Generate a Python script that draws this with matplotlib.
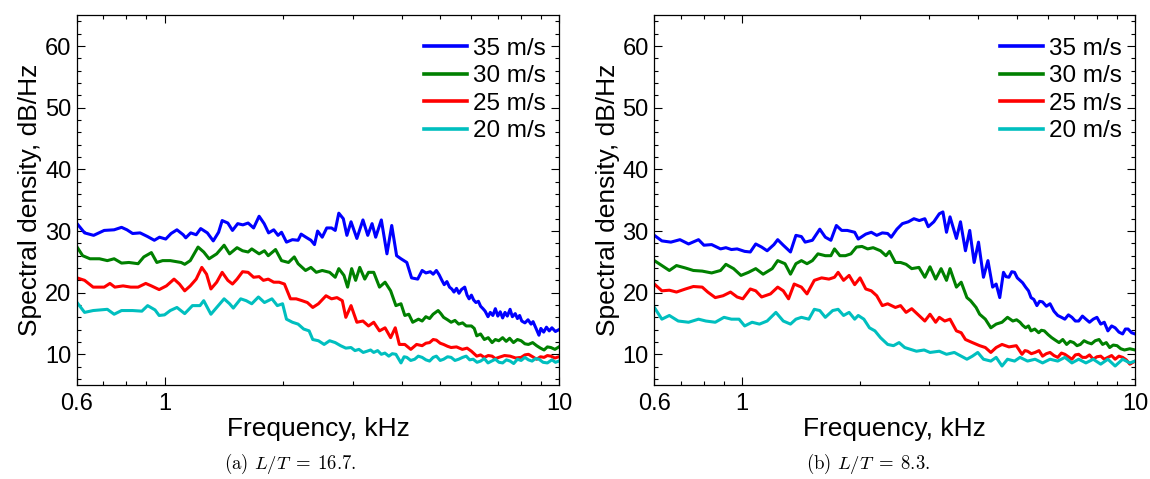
import matplotlib
matplotlib.use("Agg")
import matplotlib.pyplot as plt
from matplotlib.ticker import FixedLocator, NullFormatter, MultipleLocator

plt.rcParams['font.family'] = ['Liberation Sans', 'DejaVu Sans']
plt.rcParams['mathtext.fontset'] = 'cm'

speeds = ["35 m/s", "30 m/s", "25 m/s", "20 m/s"]
colors = ["#0000ff", "#008000", "#ff0000", "#00bfbf"]
captions = [r"(a) $L/T\;=\;16.7$.", r"(b) $L/T\;=\;8.3$."]

# ---- panel (a), L/T = 16.7 ----
a35_f = [0.600, 0.627, 0.661, 0.703, 0.745, 0.778, 0.803, 0.830, 0.867, 0.906, 0.942, 0.971,
         1.007, 1.039, 1.075, 1.115, 1.132, 1.165, 1.203, 1.235, 1.284, 1.329, 1.371, 1.400,
         1.447, 1.487, 1.533, 1.580, 1.629, 1.682, 1.737, 1.789, 1.836, 1.892, 1.940, 1.980,
         2.038, 2.110, 2.181, 2.220, 2.283, 2.351, 2.400, 2.444, 2.511, 2.578, 2.651, 2.709,
         2.766, 2.840, 2.900, 2.971, 3.074, 3.185, 3.276, 3.359, 3.431, 3.546, 3.664, 3.768,
         3.877, 3.977, 4.115, 4.231, 4.385, 4.500, 4.60, 4.72, 4.80, 4.89, 4.97, 5.05, 5.12,
         5.20, 5.28, 5.35, 5.42, 5.50, 5.58, 5.66, 5.77, 5.85, 5.92, 6.00, 6.08, 6.16, 6.25,
         6.33, 6.42, 6.50, 6.61, 6.70, 6.80, 6.90, 7.00, 7.10, 7.20, 7.30, 7.40, 7.52, 7.62,
         7.75, 7.85, 7.95, 8.05, 8.20, 8.35, 8.50, 8.60, 8.75, 8.90, 9.00, 9.15, 9.30, 9.45,
         9.60, 9.80, 10.0]
a35_db = [31.2, 29.7, 29.3, 30.1, 30.2, 30.6, 30.2, 29.6, 29.7, 29.1, 28.5, 29.0,
          28.7, 29.6, 30.2, 29.4, 28.9, 29.7, 29.4, 30.4, 29.7, 28.4, 29.8, 31.7,
          31.3, 30.1, 31.2, 31.0, 31.3, 30.5, 32.4, 31.2, 29.7, 30.2, 29.3, 29.8,
          28.2, 28.6, 28.5, 29.5, 29.0, 28.5, 27.8, 30.0, 29.0, 30.5, 30.5, 30.1,
          32.9, 32.0, 29.3, 31.5, 28.8, 31.8, 29.3, 31.2, 29.0, 31.8, 26.3, 30.9,
          26.0, 25.5, 24.9, 22.4, 22.2, 23.6, 23.2, 23.4, 23.0, 23.6, 22.9, 22.0, 21.3,
          21.8, 20.9, 20.6, 20.1, 20.7, 19.9, 20.5, 20.9, 19.6, 19.0, 19.6, 18.8, 18.4, 18.6,
          17.8, 17.4, 17.0, 16.1, 16.8, 16.3, 17.4, 16.2, 16.9, 15.9, 16.8, 16.2, 17.3, 16.1,
          16.6, 15.8, 16.3, 15.4, 15.1, 15.6, 14.9, 15.3, 14.2, 13.1, 14.2, 13.6, 14.4, 13.8,
          14.3, 13.7, 14.0]

a30_f = [0.600, 0.620, 0.647, 0.684, 0.716, 0.745, 0.778, 0.812, 0.857, 0.886, 0.926, 0.956,
         0.989, 1.034, 1.102, 1.125, 1.162, 1.216, 1.257, 1.297, 1.356, 1.416, 1.462, 1.527,
         1.577, 1.629, 1.664, 1.737, 1.792, 1.832, 1.912, 1.980, 2.062, 2.133, 2.181, 2.278,
         2.351, 2.425, 2.511, 2.622, 2.709, 2.766, 2.851, 2.912, 2.982, 3.052, 3.126, 3.219,
         3.290, 3.392, 3.508, 3.624, 3.744, 3.861, 3.977, 4.067, 4.163, 4.259, 4.404, 4.50,
         4.598, 4.70, 4.797, 4.940, 5.02, 5.10, 5.22, 5.33, 5.45, 5.57, 5.70, 5.82, 6.00,
         6.10, 6.19, 6.33, 6.47, 6.62, 6.77, 6.90, 7.04, 7.20, 7.35, 7.50, 7.67, 7.85, 8.02,
         8.20, 8.37, 8.58, 8.78, 8.98, 9.17, 9.35, 9.54, 9.77, 10.0]
a30_db = [27.4, 26.0, 25.5, 25.5, 25.2, 25.5, 24.8, 24.9, 24.7, 25.8, 26.5, 24.9,
          25.2, 25.2, 24.9, 24.6, 25.2, 27.4, 26.6, 25.5, 26.3, 27.7, 26.3, 27.3,
          26.8, 26.6, 27.1, 26.3, 26.8, 26.0, 27.0, 25.2, 24.9, 25.8, 24.7, 23.6,
          24.1, 23.3, 23.6, 23.3, 22.5, 23.9, 22.8, 20.9, 23.9, 22.0, 24.1, 22.2,
          23.3, 23.3, 20.9, 21.7, 20.3, 17.9, 18.2, 16.3, 16.5, 15.2, 15.7, 15.4,
          16.1, 15.8, 16.5, 17.1, 16.6, 16.0, 15.6, 15.2, 15.5, 14.9, 15.1, 14.6, 14.6,
          14.2, 13.0, 13.3, 12.4, 12.7, 11.9, 12.4, 12.2, 12.7, 12.1, 12.6, 11.9, 12.4, 12.2,
          11.7, 11.6, 11.9, 11.4, 11.0, 10.7, 11.2, 11.1, 10.8, 11.2]

a25_f = [0.600, 0.627, 0.659, 0.703, 0.727, 0.748, 0.785, 0.821, 0.857, 0.896, 0.926, 0.969,
         1.011, 1.057, 1.091, 1.125, 1.162, 1.203, 1.243, 1.278, 1.311, 1.356, 1.400, 1.447,
         1.487, 1.527, 1.577, 1.629, 1.682, 1.737, 1.781, 1.832, 1.892, 1.952, 2.014, 2.086,
         2.157, 2.232, 2.302, 2.376, 2.456, 2.567, 2.651, 2.737, 2.823, 2.882, 2.971, 3.074,
         3.185, 3.290, 3.392, 3.508, 3.624, 3.744, 3.846, 3.939, 4.067, 4.212, 4.356, 4.500,
         4.60, 4.70, 4.80, 4.89, 5.00, 5.10, 5.22, 5.33, 5.50, 5.69, 5.85, 6.00, 6.19, 6.33,
         6.47, 6.62, 6.77, 6.90, 7.04, 7.28, 7.52, 7.77, 8.02, 8.20, 8.37, 8.58, 8.78, 8.98,
         9.17, 9.35, 9.54, 9.77, 10.0]
a25_db = [22.4, 22.0, 20.9, 20.9, 21.5, 20.9, 21.1, 20.9, 20.9, 21.5, 21.1, 20.5,
          21.1, 22.2, 21.4, 20.3, 21.1, 22.2, 24.1, 23.0, 20.6, 21.7, 23.3, 22.0,
          21.4, 22.2, 23.4, 23.3, 22.5, 22.6, 22.0, 22.2, 21.7, 21.7, 21.4, 19.0,
          19.0, 18.7, 18.4, 17.6, 18.2, 19.5, 19.0, 19.2, 18.7, 16.0, 17.9, 15.2,
          15.4, 14.6, 15.2, 13.8, 14.3, 12.7, 14.3, 11.6, 11.6, 10.8, 11.6, 11.4,
          11.8, 11.9, 12.4, 12.3, 11.8, 11.6, 11.3, 11.1, 11.2, 10.8, 11.0, 10.5, 9.7, 9.9,
          9.5, 9.8, 9.7, 9.3, 9.5, 9.8, 9.7, 9.4, 9.5, 9.9, 10.0, 9.6, 9.2, 9.6,
          9.5, 9.8, 9.7, 9.4, 9.6]

a20_f = [0.600, 0.627, 0.659, 0.716, 0.745, 0.778, 0.830, 0.876, 0.906, 0.946, 0.969, 1.000,
         1.034, 1.075, 1.125, 1.177, 1.230, 1.257, 1.311, 1.356, 1.416, 1.462, 1.494, 1.560,
         1.611, 1.664, 1.730, 1.792, 1.872, 1.932, 1.992, 2.038, 2.110, 2.181, 2.253, 2.326,
         2.376, 2.456, 2.539, 2.622, 2.709, 2.795, 2.882, 2.971, 3.04, 3.111, 3.19, 3.262,
         3.33, 3.392, 3.47, 3.546, 3.62, 3.704, 3.78, 3.861, 3.977, 4.05, 4.115, 4.21, 4.308,
         4.40, 4.500, 4.60, 4.70, 4.80, 4.89, 5.00, 5.10, 5.22, 5.33, 5.45, 5.57, 5.70, 5.82,
         5.94, 6.06, 6.20, 6.33, 6.47, 6.61, 6.75, 6.90, 7.05, 7.20, 7.36, 7.52, 7.68, 7.85,
         8.02, 8.20, 8.37, 8.55, 8.72, 8.90, 9.12, 9.35, 9.60, 9.80, 10.0]
a20_db = [18.4, 16.8, 17.1, 17.3, 16.5, 17.1, 17.1, 17.0, 17.9, 17.2, 16.3, 16.4,
          17.1, 17.6, 16.6, 17.9, 17.9, 18.7, 16.5, 17.6, 19.0, 18.2, 17.5, 19.0,
          18.7, 18.2, 19.3, 18.4, 19.0, 17.9, 18.2, 15.7, 15.2, 14.9, 14.1, 13.8,
          12.4, 12.2, 11.6, 12.2, 11.9, 11.4, 11.0, 11.1, 10.6, 10.8, 10.3, 10.5,
          10.7, 10.3, 10.6, 10.0, 10.2, 9.7, 10.1, 10.0, 8.6, 9.6, 9.5, 9.0, 9.2,
          9.7, 9.5, 9.1, 8.9, 9.5, 9.7, 9.0, 9.2, 9.6, 9.5, 9.0, 9.2, 9.5, 9.7,
          9.1, 9.2, 8.7, 8.9, 9.3, 8.6, 8.9, 9.2, 8.7, 8.6, 9.1, 8.9, 8.5, 9.2,
          9.0, 9.5, 9.1, 8.9, 9.3, 9.2, 8.7, 8.6, 9.1, 8.7, 8.9]

# ---- panel (b), L/T = 8.3 ----
b35_f = [0.600, 0.627, 0.661, 0.697, 0.733, 0.777, 0.802, 0.839, 0.884, 0.912, 0.942, 0.974,
         1.018, 1.052, 1.086, 1.124, 1.161, 1.208, 1.235, 1.276, 1.331, 1.374, 1.419, 1.450,
         1.513, 1.580, 1.632, 1.686, 1.741, 1.796, 1.856, 1.938, 1.979, 2.068, 2.136, 2.205,
         2.278, 2.351, 2.400, 2.481, 2.562, 2.653, 2.741, 2.829, 2.922, 2.981, 3.080, 3.180,
         3.248, 3.317, 3.386, 3.515, 3.600, 3.706, 3.800, 3.900, 4.000, 4.118, 4.227, 4.345,
         4.436, 4.53, 4.63, 4.70, 4.78, 4.86, 4.94, 5.02, 5.10, 5.18, 5.27, 5.36, 5.44, 5.53,
         5.63, 5.72, 5.82, 5.95, 6.08, 6.22, 6.36, 6.50, 6.63, 6.77, 6.91, 7.05, 7.19, 7.35,
         7.50, 7.66, 7.83, 8.00, 8.18, 8.35, 8.53, 8.72, 8.90, 9.10, 9.30, 9.45, 9.60, 9.80,
         10.0]
b35_db = [29.3, 28.4, 28.2, 28.6, 27.9, 28.6, 27.7, 27.8, 27.1, 27.3, 27.0, 27.1,
          26.7, 26.6, 27.9, 27.4, 26.8, 27.8, 28.6, 27.7, 26.6, 29.3, 29.1, 28.2,
          28.5, 30.3, 29.0, 28.5, 30.9, 30.1, 30.1, 29.8, 28.7, 29.5, 29.8, 29.3,
          29.7, 29.6, 29.0, 30.3, 31.2, 31.5, 32.0, 31.7, 32.0, 30.7, 31.5, 32.8,
          33.1, 29.8, 32.3, 28.8, 31.5, 26.8, 30.1, 24.9, 28.2, 22.5, 25.2, 20.9,
          21.4, 19.2, 23.3, 22.6, 22.5, 23.4, 23.3, 22.4, 22.0, 21.6, 20.9, 20.3, 19.2, 18.9,
          17.9, 18.6, 18.5, 17.8, 18.2, 17.0, 16.3, 16.0, 15.7, 16.4, 16.0, 15.4, 15.4, 16.2,
          15.7, 15.2, 15.7, 16.0, 14.9, 15.2, 13.8, 14.6, 14.3, 13.6, 13.3, 14.1, 14.1, 13.5,
          13.3]

b30_f = [0.600, 0.627, 0.655, 0.683, 0.720, 0.754, 0.794, 0.839, 0.884, 0.912, 0.954, 0.996,
         1.041, 1.086, 1.134, 1.196, 1.235, 1.289, 1.331, 1.374, 1.419, 1.466, 1.513, 1.563,
         1.632, 1.686, 1.722, 1.777, 1.836, 1.896, 1.958, 2.023, 2.091, 2.159, 2.254, 2.327,
         2.376, 2.459, 2.535, 2.618, 2.706, 2.823, 2.922, 3.012, 3.113, 3.214, 3.317, 3.386,
         3.515, 3.615, 3.738, 3.819, 3.944, 4.027, 4.163, 4.300, 4.436, 4.59, 4.74, 4.89,
         5.00, 5.10, 5.18, 5.27, 5.36, 5.44, 5.56, 5.69, 5.78, 5.88, 6.01, 6.14, 6.27, 6.41,
         6.55, 6.70, 6.84, 6.98, 7.12, 7.26, 7.42, 7.58, 7.75, 7.92, 8.10, 8.27, 8.45, 8.62,
         8.80, 9.00, 9.20, 9.40, 9.70, 10.0]
b30_db = [25.2, 24.4, 23.6, 24.4, 24.0, 23.6, 23.5, 23.2, 23.6, 24.6, 23.9, 22.8,
          23.3, 23.9, 23.0, 23.9, 25.2, 24.7, 23.0, 24.7, 25.2, 24.7, 25.2, 26.3,
          26.0, 26.0, 27.1, 26.0, 26.0, 26.3, 27.4, 27.5, 27.1, 27.3, 26.8, 26.0,
          26.7, 24.9, 24.9, 24.6, 23.9, 24.1, 22.5, 24.2, 22.2, 23.9, 22.0, 23.9,
          20.9, 21.7, 19.2, 18.7, 17.6, 16.5, 15.7, 14.3, 14.9, 15.2, 16.0, 15.4,
          15.6, 15.2, 14.7, 14.3, 14.6, 13.8, 14.1, 13.5, 13.9, 13.8, 13.2, 12.7, 12.3, 11.9,
          12.4, 11.6, 12.1, 11.9, 11.4, 11.6, 12.2, 11.9, 11.7, 12.2, 12.4, 11.6, 11.9, 11.1,
          11.5, 11.4, 10.9, 10.7, 10.9, 10.7]

b25_f = [0.600, 0.627, 0.655, 0.683, 0.720, 0.754, 0.794, 0.820, 0.857, 0.897, 0.937, 0.974,
         1.007, 1.052, 1.086, 1.124, 1.184, 1.235, 1.276, 1.316, 1.360, 1.419, 1.466, 1.530,
         1.597, 1.667, 1.722, 1.759, 1.816, 1.876, 1.938, 2.000, 2.068, 2.136, 2.205, 2.278,
         2.351, 2.459, 2.535, 2.618, 2.706, 2.823, 2.922, 3.012, 3.113, 3.180, 3.283, 3.386,
         3.515, 3.615, 3.706, 3.860, 4.027, 4.163, 4.300, 4.436, 4.59, 4.78, 4.99, 5.16,
         5.25, 5.33, 5.45, 5.57, 5.70, 5.82, 5.95, 6.08, 6.22, 6.36, 6.50, 6.63, 6.77, 6.91,
         7.05, 7.19, 7.35, 7.50, 7.66, 7.83, 8.00, 8.18, 8.35, 8.53, 8.72, 8.90, 9.10, 9.30,
         9.50, 9.70, 10.0]
b25_db = [21.4, 20.3, 20.4, 20.1, 20.6, 21.0, 20.9, 20.1, 19.2, 19.5, 20.1, 19.3,
          19.0, 20.6, 20.3, 19.3, 19.8, 20.9, 20.3, 19.0, 21.4, 20.9, 19.8, 22.0,
          22.4, 22.2, 22.5, 23.3, 22.0, 22.8, 21.3, 22.4, 20.6, 20.3, 19.5, 17.9,
          18.2, 17.6, 17.9, 16.8, 17.4, 16.3, 15.4, 16.5, 15.2, 16.0, 15.4, 15.7,
          13.8, 13.5, 12.4, 11.9, 11.4, 11.1, 10.3, 11.1, 11.6, 11.2, 11.4, 10.0,
          10.6, 10.5, 10.1, 10.3, 10.6, 9.7, 10.1, 10.3, 9.8, 9.5, 10.2, 10.0, 9.6, 9.2,
          9.9, 10.0, 9.5, 9.5, 9.9, 9.2, 9.6, 9.7, 9.2, 9.5, 9.8, 9.2, 9.7, 9.5,
          9.1, 8.4, 8.9]

b20_f = [0.600, 0.627, 0.655, 0.690, 0.733, 0.777, 0.811, 0.857, 0.902, 0.942, 0.985, 1.018,
         1.063, 1.110, 1.161, 1.222, 1.276, 1.331, 1.374, 1.419, 1.482, 1.530, 1.580, 1.632,
         1.704, 1.759, 1.816, 1.876, 1.938, 1.979, 2.045, 2.113, 2.182, 2.254, 2.351, 2.432,
         2.513, 2.597, 2.688, 2.782, 2.910, 3.012, 3.180, 3.317, 3.472, 3.615, 3.738, 3.860,
         3.983, 4.118, 4.300, 4.436, 4.59, 4.74, 4.94, 5.10, 5.33, 5.57, 5.82, 6.08, 6.36,
         6.63, 6.91, 7.19, 7.50, 7.83, 8.18, 8.53, 8.90, 9.30, 9.70, 10.0]
b20_db = [17.6, 15.7, 16.3, 15.4, 15.2, 15.7, 15.4, 15.2, 16.0, 15.7, 15.7, 14.6,
          15.2, 14.9, 15.4, 16.8, 15.4, 14.9, 15.7, 16.0, 15.7, 17.3, 17.1, 16.0,
          17.1, 17.3, 16.3, 16.8, 15.7, 16.3, 15.7, 14.3, 13.8, 12.7, 11.6, 11.4,
          11.9, 11.1, 10.8, 10.5, 10.7, 10.3, 10.5, 10.0, 10.3, 9.7, 9.2, 9.7,
          10.3, 9.2, 8.9, 9.5, 8.1, 9.2, 8.9, 9.5, 8.9, 9.2, 8.6, 9.2, 8.9,
          9.5, 8.6, 9.2, 8.6, 9.2, 8.4, 9.2, 8.1, 9.2, 8.6, 8.9]

panels = [
    [(a35_f, a35_db), (a30_f, a30_db), (a25_f, a25_db), (a20_f, a20_db)],
    [(b35_f, b35_db), (b30_f, b30_db), (b25_f, b25_db), (b20_f, b20_db)],
]

fig = plt.figure(figsize=(11.5, 4.79), dpi=100)
ax_pos = [[0.067, 0.196, 0.419, 0.772], [0.569, 0.196, 0.418, 0.772]]

for i in range(2):
    ax = fig.add_axes(ax_pos[i])
    for (f, db), lab, c in zip(panels[i], speeds, colors):
        ax.plot(f, db, color=c, lw=2.2, label=lab)
    ax.set_xscale('log')
    ax.set_xlim(0.6, 10)
    ax.set_ylim(5, 65)
    ax.xaxis.set_major_locator(FixedLocator([0.6, 1, 10]))
    ax.set_xticklabels(['0.6', '1', '10'])
    ax.xaxis.set_minor_locator(FixedLocator([0.7, 0.8, 0.9, 2, 3, 4, 5, 6, 7, 8, 9]))
    ax.xaxis.set_minor_formatter(NullFormatter())
    ax.yaxis.set_major_locator(MultipleLocator(10))
    ax.yaxis.set_minor_locator(MultipleLocator(2))
    ax.set_yticks([10, 20, 30, 40, 50, 60])
    ax.tick_params(which='both', direction='in', top=True, right=True, labelsize=17, width=0.8)
    ax.tick_params(which='major', length=6)
    ax.tick_params(which='minor', length=3)
    ax.tick_params(axis='x', pad=6)
    ax.tick_params(axis='y', pad=4)
    for s in ax.spines.values():
        s.set_linewidth(0.9)
    ax.set_xlabel('Frequency, kHz', fontsize=19, labelpad=1)
    ax.set_ylabel('Spectral density, dB/Hz', fontsize=19, labelpad=2)
    leg = ax.legend(loc='upper right', bbox_to_anchor=(1.0, 0.975), frameon=False,
                    fontsize=17.5, handlelength=1.75, handletextpad=0.25,
                    labelspacing=0.22, borderaxespad=0.15)
    for h in leg.get_lines():
        h.set_linewidth(2.6)

fig.text(0.252, 0.02, captions[0], ha='center', va='baseline', fontsize=13.5, family='cmr10')
fig.text(0.755, 0.02, captions[1], ha='center', va='baseline', fontsize=13.5, family='cmr10')

fig.savefig('out.png', dpi=100)
